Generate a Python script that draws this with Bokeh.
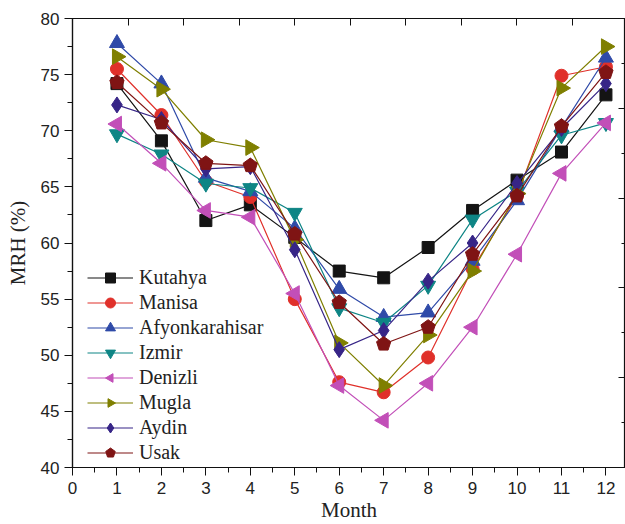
import math
from bokeh.plotting import figure
from bokeh.models import (Range1d, LinearAxis, FixedTicker, Legend, LegendItem,
                          SingleIntervalTicker)
from bokeh.embed import file_html
from bokeh.resources import INLINE

months = [1, 2, 3, 4, 5, 6, 7, 8, 9, 10, 11, 12]
kutahya = [74.2, 69.1, 62.0, 63.4, 60.5, 57.5, 56.9, 59.6, 62.9, 65.6, 68.1, 73.2]
manisa = [75.5, 71.4, 65.5, 64.1, 55.0, 47.6, 46.7, 49.8, 57.7, 64.2, 74.9, 75.7]
afyonkarahisar = [77.8, 74.2, 65.8, 64.6, 61.3, 55.9, 53.4, 53.8, 58.4, 63.8, 70.3, 76.5]
izmir = [69.7, 67.9, 65.3, 64.9, 62.7, 54.2, 52.9, 56.2, 62.1, 64.6, 69.6, 70.7]
denizli = [70.6, 67.1, 62.9, 62.3, 55.5, 47.3, 44.2, 47.5, 52.5, 59.0, 66.2, 70.7]
mugla = [76.6, 73.7, 69.2, 68.5, 60.3, 51.1, 47.3, 51.8, 57.5, 64.4, 73.8, 77.5]
aydin = [72.3, 71.0, 66.6, 66.8, 59.4, 50.5, 52.2, 56.6, 60.0, 65.3, 70.2, 74.2]
usak = [74.3, 70.7, 67.1, 66.9, 60.8, 54.7, 51.0, 52.5, 59.0, 64.2, 70.4, 75.2]

names = ["Kutahya", "Manisa", "Afyonkarahisar", "Izmir", "Denizli", "Mugla", "Aydin", "Usak"]
series = [kutahya, manisa, afyonkarahisar, izmir, denizli, mugla, aydin, usak]
colors = ["#141414", "#e0302a", "#2f4aa8", "#0e8585", "#c24fb8", "#7f7f00", "#372587", "#7f1414"]
# (kind, marker or number of sides, angle, size or screen radius)
styles = [("s", "square", 0, 12), ("s", "circle", 0, 13), ("s", "triangle", 0, 15),
          ("s", "inverted_triangle", 0, 15), ("n", 3, math.pi / 2, 9),
          ("n", 3, -math.pi / 2, 9), ("s", "diamond", 0, 16), ("n", 5, 0, 7.5)]

SERIF = "Liberation Serif"
SANS = "Liberation Sans"

p = figure(width=625, height=524, output_backend="svg", toolbar_location=None,
           x_range=Range1d(0, 12.44), y_range=Range1d(40, 80),
           min_border_left=72, min_border_right=0, min_border_top=18, min_border_bottom=55)
p.background_fill_color = "white"
p.border_fill_color = "white"
p.outline_line_color = "#111111"
p.outline_line_width = 1.2
p.grid.visible = False

top_max = (625 - 72.5) / 55.5
p.extra_x_ranges = {"top": Range1d(0, top_max)}
p.extra_y_ranges = {"right": Range1d(0, 5)}

for ax in (p.xaxis[0], p.yaxis[0]):
    ax.axis_line_color = "#111111"
    ax.axis_line_width = 1.2
    ax.major_tick_line_color = "#111111"
    ax.minor_tick_line_color = "#111111"
    ax.major_tick_in = 0
    ax.major_tick_out = 8
    ax.minor_tick_in = 0
    ax.minor_tick_out = 5
    ax.major_label_text_font = SANS
    ax.major_label_text_font_size = "17px"
    ax.major_label_text_color = "#222222"
    ax.axis_label_text_font = SERIF
    ax.axis_label_text_font_size = "21px"
    ax.axis_label_text_font_style = "normal"
    ax.axis_label_text_color = "#222222"

p.xaxis[0].ticker = SingleIntervalTicker(interval=1, num_minor_ticks=2)
p.yaxis[0].ticker = SingleIntervalTicker(interval=5, num_minor_ticks=2)
p.xaxis[0].axis_label = "Month"
p.yaxis[0].axis_label = "MRH (%)"
p.xaxis[0].major_label_standoff = 6
p.yaxis[0].major_label_standoff = 5
p.xaxis[0].axis_label_standoff = 1
p.yaxis[0].axis_label_standoff = 8

top_ticks = list(range(0, 10))
right_major = [0, 1, 2, 3, 4, 5]
right_minor = [0.5, 1.5, 2.5, 3.5, 4.5]
top_axis = LinearAxis(x_range_name="top", ticker=FixedTicker(ticks=top_ticks),
                      major_label_overrides={t: "" for t in top_ticks})
right_axis = LinearAxis(y_range_name="right",
                        ticker=FixedTicker(ticks=right_major, minor_ticks=right_minor),
                        major_label_overrides={t: "" for t in right_major})
for ax in (top_axis, right_axis):
    ax.axis_line_alpha = 0
    ax.major_tick_in = 7
    ax.major_tick_out = 0
    ax.minor_tick_in = 4
    ax.minor_tick_out = 0
    ax.major_tick_line_color = "#111111"
    ax.minor_tick_line_color = "#111111"
    ax.major_label_standoff = 0
p.add_layout(top_axis, "above")
p.add_layout(right_axis, "right")

items = []
for name, ys, c, (kind, m, a, s) in zip(names, series, colors, styles):
    lr = p.line(months, ys, line_color=c, line_width=1.2)
    if kind == "n":
        mr = p.ngon(months, ys, radius=s, radius_units="screen", n=m, angle=a,
                    fill_color=c, line_color=c)
    else:
        mr = p.scatter(months, ys, marker=m, size=s, angle=a, fill_color=c, line_color=c)
    items.append(LegendItem(label=name, renderers=[lr, mr]))

legend = Legend(items=items, location=(15, 2), margin=0, padding=0,
                label_text_font=SERIF, label_text_font_size="20px",
                label_text_color="#222222",
                glyph_width=46, glyph_height=25, label_height=25, label_standoff=6,
                spacing=0, border_line_alpha=0, background_fill_alpha=0)
p.add_layout(legend, "center")

open("out.html", "w").write(file_html(p, INLINE))
